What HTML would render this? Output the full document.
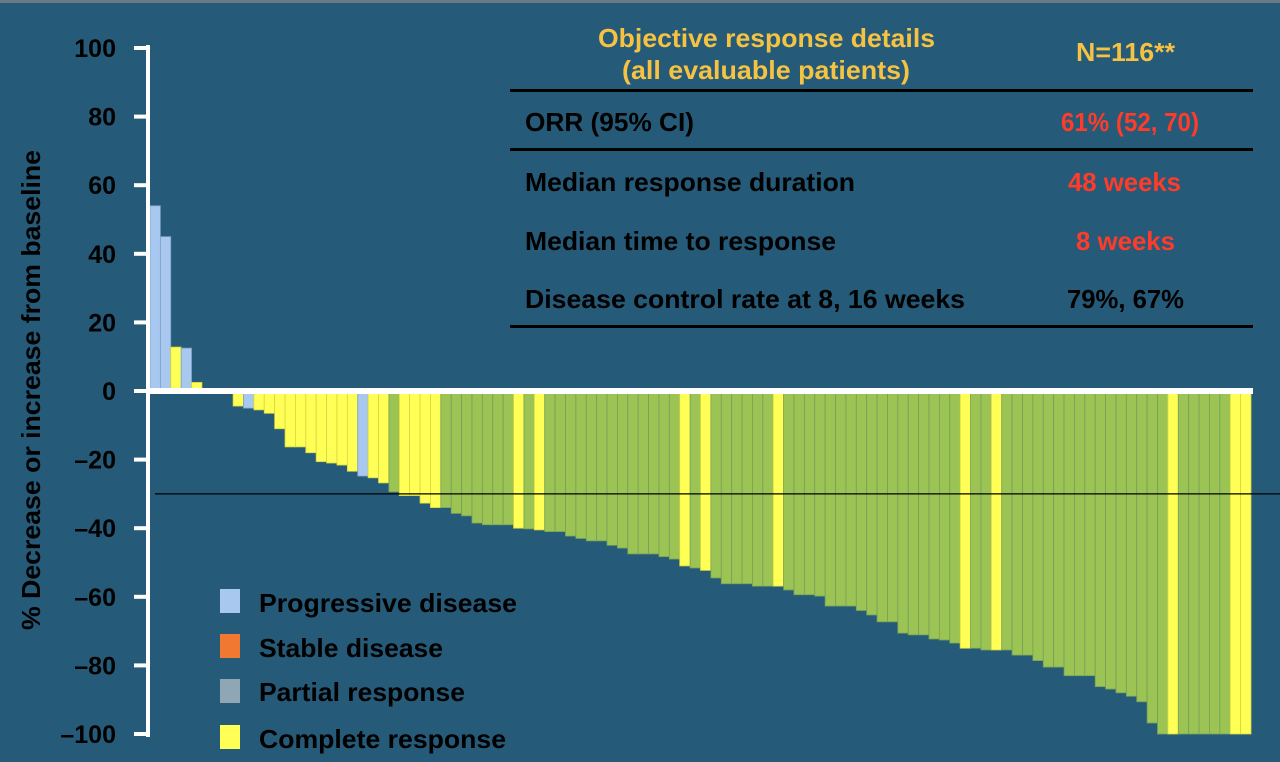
<!DOCTYPE html>
<html><head><meta charset="utf-8">
<style>
html,body{margin:0;padding:0;background:#255a78;}
svg{display:block;font-family:"Liberation Sans",Arial,sans-serif;font-weight:bold;}
</style></head>
<body>
<svg id="chart" width="1280" height="762" viewBox="0 0 1280 762">
<rect x="0" y="0" width="1280" height="762" fill="#255a78"/>
<rect x="0" y="0" width="1280" height="3" fill="#6a7a84"/>
<g id="bars"></g>
<g id="axis"></g>
<text transform="translate(40,390) rotate(-90)" text-anchor="middle" font-size="26" fill="#000" textLength="480" lengthAdjust="spacingAndGlyphs">% Decrease or increase from baseline</text>

<g>
<text x="598" y="47" font-size="26" fill="#f5c242" textLength="337" lengthAdjust="spacingAndGlyphs">Objective response details</text>
<text x="622" y="79" font-size="26" fill="#f5c242" textLength="288" lengthAdjust="spacingAndGlyphs">(all evaluable patients)</text>
<text x="1076" y="61" font-size="26" fill="#f5c242" textLength="99" lengthAdjust="spacingAndGlyphs">N=116**</text>
<rect x="510" y="89" width="743" height="3" fill="#000"/>
<rect x="510" y="148" width="743" height="3" fill="#000"/>
<rect x="510" y="325" width="743" height="3" fill="#000"/>
<text x="525" y="131" font-size="26" fill="#000" textLength="169" lengthAdjust="spacingAndGlyphs">ORR (95% CI)</text>
<text x="1061" y="131" font-size="26" fill="#ff3b2a" textLength="138" lengthAdjust="spacingAndGlyphs">61% (52, 70)</text>
<text x="525" y="191" font-size="26" fill="#000" textLength="330" lengthAdjust="spacingAndGlyphs">Median response duration</text>
<text x="1068" y="191" font-size="26" fill="#ff3b2a" textLength="113" lengthAdjust="spacingAndGlyphs">48 weeks</text>
<text x="525" y="250" font-size="26" fill="#000" textLength="311" lengthAdjust="spacingAndGlyphs">Median time to response</text>
<text x="1076" y="250" font-size="26" fill="#ff3b2a" textLength="99" lengthAdjust="spacingAndGlyphs">8 weeks</text>
<text x="525" y="308" font-size="26" fill="#000" textLength="440" lengthAdjust="spacingAndGlyphs">Disease control rate at 8, 16 weeks</text>
<text x="1067" y="308" font-size="26" fill="#000" textLength="117" lengthAdjust="spacingAndGlyphs">79%, 67%</text>
</g>

<g>
<rect x="220" y="589" width="20" height="24" fill="#a8c8f0"/>
<text x="259" y="612" font-size="26" fill="#000" textLength="258" lengthAdjust="spacingAndGlyphs">Progressive disease</text>
<rect x="220" y="634" width="20" height="24" fill="#f07830"/>
<text x="259" y="657" font-size="26" fill="#000" textLength="184" lengthAdjust="spacingAndGlyphs">Stable disease</text>
<rect x="220" y="679" width="20" height="24" fill="#8fa6b4"/>
<text x="259" y="701" font-size="26" fill="#000" textLength="206" lengthAdjust="spacingAndGlyphs">Partial response</text>
<rect x="220" y="725" width="20" height="24" fill="#ffff55"/>
<text x="259" y="748" font-size="26" fill="#000" textLength="247" lengthAdjust="spacingAndGlyphs">Complete response</text>
</g>
</svg>
<script>
// B=progressive(blue), Y=complete(yellow), G=green
const values = [54,45,12.8,12.5,2.5,0,0,0,-4.4,-5,-5.5,-6.5,-11,-16.3,-16.3,-18,-20.6,-21,-21.6,-23.4,-24.8,-25.3,-26.8,-29.4,-30.5,-30.5,-32.7,-34,-34,-35.7,-36.4,-38.5,-39,-39,-39,-40,-40.2,-40.5,
-41,-41,-42.3,-43,-43.7,-43.7,-45,-45.8,-47.5,-47.5,-47.5,-48.3,-49,-51,-51.6,-52.3,-54.5,-56.2,-56.2,-56.2,-56.9,-56.9,-56.9,-58,-59.4,-59.4,-59.8,-62.7,-62.7,-62.7,-64,-65.3,
-67.3,-67.3,-70.6,-71.1,-71.1,-72.3,-72.6,-73.5,-75,-75,-75.5,-75.5,-75.5,-77,-77,-78.6,-80.5,-80.5,-83,-83,-83,-86.2,-86.9,-88,-89,-90.6,-96.8,-100,-100,-100,-100,-100,-100,-100,-100,-100];
const types = ["B","B","Y","B","Y","G","G","G","Y","B","Y","Y","Y","Y","Y","Y","Y","Y","Y","Y","B","Y","Y","G","Y","Y","Y","Y","G","G","G","G","G","G","G","Y","G","Y",
"G","G","G","G","G","G","G","G","G","G","G","G","G","Y","G","Y","G","G","G","G","G","G","Y","G","G","G","G","G","G","G","G","G",
"G","G","G","G","G","G","G","G","Y","G","G","Y","G","G","G","G","G","G","G","G","G","G","G","G","G","G","G","G","Y","G","G","G","G","G","Y","Y"];
const yTicks = [100,80,60,40,20,0,-20,-40,-60,-80,-100];
const yTickLabels = ["100","80","60","40","20","0","\u201320","\u201340","\u201360","\u201380","\u2013100"];
const threshold = -30;

const NS="http://www.w3.org/2000/svg";
const x0=150, x1=1251, yTop=48, yBot=734;
function yScale(v){return yBot-(v+100)/200*(yBot-yTop);}
const bw=(x1-x0)/values.length;
function xScale(i){return x0+i*bw;}
const colors={B:"#a8c8f0",Y:"#ffff55",G:"#9bc455"};
const strokes={B:"#7d9fc4",Y:"#d6d640",G:"#75a05a"};
const gb=document.getElementById('bars');
values.forEach((v,i)=>{
  const r=document.createElementNS(NS,'rect');
  const y=Math.min(yScale(v),yScale(0)), h=Math.abs(yScale(v)-yScale(0));
  r.setAttribute('x',xScale(i));r.setAttribute('y',y);
  r.setAttribute('width',bw);r.setAttribute('height',h);
  r.setAttribute('fill',colors[types[i]]);
  r.setAttribute('stroke',strokes[types[i]]);r.setAttribute('stroke-width','0.8');
  
  
  gb.appendChild(r);
});
const ga=document.getElementById('axis');
function mk(tag,attrs){const e=document.createElementNS(NS,tag);for(const k in attrs)e.setAttribute(k,attrs[k]);return e;}
const th=mk('line',{x1:155,x2:1280,y1:yScale(threshold),y2:yScale(threshold),stroke:'#000','stroke-width':1.3});


ga.appendChild(th);
const zl=mk('rect',{x:146,y:yScale(0)-3,width:1107,height:6,fill:'#fff'});


ga.appendChild(zl);
const al=mk('rect',{x:146,y:yTop-3,width:4,height:yBot-yTop+6,fill:'#fff'});


ga.appendChild(al);
yTicks.forEach((t,i)=>{
  const tk=mk('rect',{x:134,y:yScale(t)-2,width:15,height:4,fill:'#fff'});
  
  
  ga.appendChild(tk);
  const tx=mk('text',{x:116,y:yScale(t)+9,'text-anchor':'end','font-size':25,fill:'#000'});
  tx.textContent=yTickLabels[i];
  
  
  ga.appendChild(tx);
});
</script>
</body></html>
